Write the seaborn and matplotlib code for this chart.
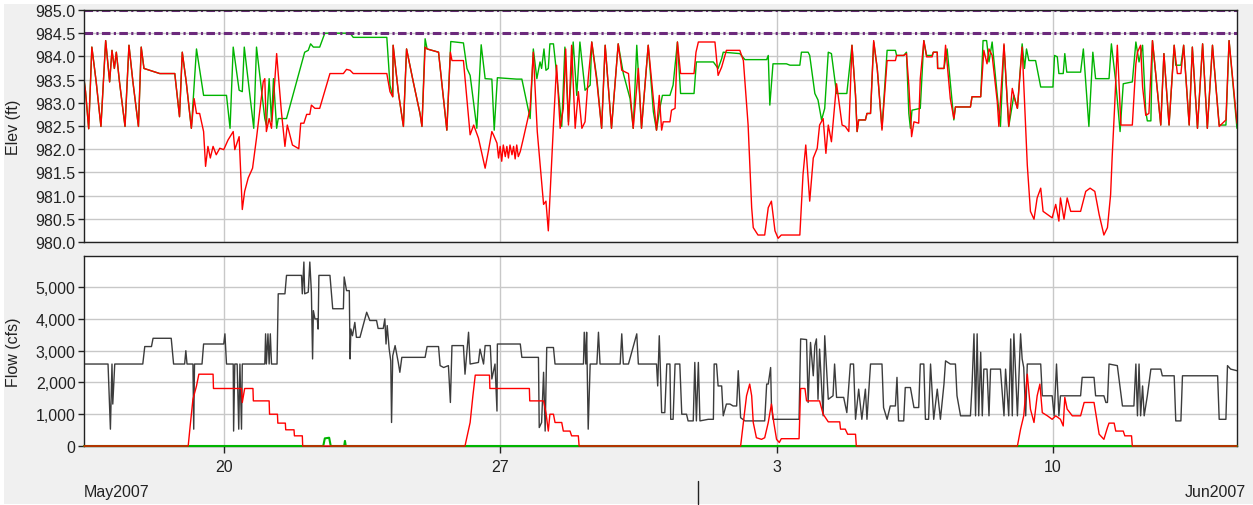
import numpy as np
import pandas as pd
import matplotlib
matplotlib.use("Agg")
import matplotlib.pyplot as plt
import matplotlib.dates as mdates
import matplotlib.ticker as mticker
from matplotlib.patches import Rectangle
import seaborn as sns

# time is given as day counted from 1 May 2007 (32 = 1 Jun)
x_start, x_end = 16.46, 45.66
tick_days = [20, 27, 34, 41]
tick_labels = ["20", "27", "3", "10"]
month_break = 32
flood_levels = [985.0, 984.5]

# pool elevation, red series (ft)
red_elev = [
    (16.46, 983.52), (16.50, 983.24), (16.58, 982.44), (16.66, 984.20), (16.77, 983.45),
    (16.89, 982.49), (17.01, 984.34), (17.11, 983.45), (17.17, 984.13), (17.23, 983.74),
    (17.28, 984.09), (17.36, 983.45), (17.50, 982.49), (17.60, 984.24), (17.70, 983.45),
    (17.84, 982.49), (17.91, 984.20), (17.98, 983.74), (18.38, 983.63), (18.76, 983.63),
    (18.88, 982.70), (18.95, 984.09), (19.05, 983.45), (19.18, 982.45), (19.25, 983.09),
    (19.31, 982.77), (19.39, 982.77), (19.49, 982.38), (19.54, 981.63), (19.60, 982.06),
    (19.66, 981.81), (19.73, 982.06), (19.81, 981.88), (19.90, 982.02), (20.00, 981.99),
    (20.11, 982.20), (20.24, 982.38), (20.28, 981.99), (20.39, 982.27), (20.47, 980.70),
    (20.53, 981.09), (20.62, 981.38), (20.73, 981.59), (20.83, 982.24), (21.00, 983.45),
    (21.04, 983.52), (21.08, 982.38), (21.15, 982.66), (21.21, 982.45), (21.34, 984.06),
    (21.38, 983.63), (21.46, 982.81), (21.55, 982.06), (21.61, 982.52), (21.74, 982.09),
    (21.90, 982.01), (21.95, 982.56), (22.03, 982.56), (22.10, 982.75), (22.18, 982.75),
    (22.22, 982.95), (22.31, 982.88), (22.43, 982.88), (22.69, 983.63), (23.03, 983.63),
    (23.11, 983.72), (23.20, 983.70), (23.28, 983.63), (24.13, 983.63), (24.21, 983.24),
    (24.28, 983.13), (24.29, 984.24), (24.42, 983.24), (24.55, 982.49), (24.63, 984.16),
    (24.80, 983.45), (24.97, 982.77), (25.02, 982.49), (25.10, 984.20), (25.15, 984.16),
    (25.44, 984.09), (25.65, 982.41), (25.74, 984.09), (25.78, 983.91), (26.07, 983.91),
    (26.24, 982.31), (26.33, 982.52), (26.45, 982.24), (26.62, 981.59), (26.70, 981.95),
    (26.79, 982.38), (26.83, 982.31), (26.92, 982.13), (26.96, 981.81), (27.00, 982.06),
    (27.04, 981.74), (27.08, 982.09), (27.13, 981.84), (27.17, 982.06), (27.21, 981.81),
    (27.25, 982.09), (27.30, 981.88), (27.34, 982.06), (27.38, 981.79), (27.42, 982.09),
    (27.46, 981.84), (27.51, 981.95), (27.59, 982.24), (27.76, 982.88), (27.84, 984.09),
    (27.89, 983.24), (27.94, 982.38), (28.10, 980.81), (28.16, 980.88), (28.22, 980.24),
    (28.35, 982.52), (28.43, 983.81), (28.52, 982.45), (28.60, 982.88), (28.66, 984.16),
    (28.73, 982.52), (28.81, 984.24), (28.90, 982.45), (28.98, 983.24), (29.07, 982.45),
    (29.15, 982.59), (29.23, 983.52), (29.32, 984.31), (29.45, 983.45), (29.57, 982.45),
    (29.66, 984.24), (29.82, 982.45), (29.99, 984.27), (30.08, 983.70), (30.25, 983.63),
    (30.37, 982.45), (30.50, 983.74), (30.58, 982.45), (30.75, 984.24), (30.88, 983.09),
    (30.96, 982.41), (31.03, 983.16), (31.09, 982.41), (31.13, 982.59), (31.30, 982.59),
    (31.34, 982.84), (31.43, 982.88), (31.49, 984.31), (31.57, 983.63), (31.91, 983.63),
    (31.96, 984.09), (32.02, 984.31), (32.44, 984.31), (32.52, 983.59), (32.61, 983.77),
    (32.73, 984.13), (33.07, 984.13), (33.16, 983.91), (33.28, 982.52), (33.37, 980.74),
    (33.41, 980.31), (33.53, 980.15), (33.70, 980.15), (33.79, 980.74), (33.87, 980.88),
    (33.96, 980.24), (34.04, 980.08), (34.12, 980.15), (34.59, 980.15), (34.67, 981.45),
    (34.74, 982.09), (34.84, 980.88), (34.93, 981.81), (35.03, 982.02), (35.09, 982.52),
    (35.18, 982.66), (35.25, 981.91), (35.31, 982.52), (35.39, 982.16), (35.52, 983.41),
    (35.60, 982.91), (35.66, 982.52), (35.74, 982.49), (35.83, 982.38), (35.91, 984.24),
    (36.00, 983.16), (36.04, 982.38), (36.08, 982.63), (36.25, 982.63), (36.29, 982.77),
    (36.38, 982.77), (36.46, 984.34), (36.55, 983.74), (36.67, 982.41), (36.80, 983.91),
    (37.01, 983.91), (37.04, 984.02), (37.22, 984.02), (37.29, 984.06), (37.35, 983.38),
    (37.42, 982.27), (37.48, 982.59), (37.60, 982.56), (37.64, 983.52), (37.73, 984.34),
    (37.80, 983.99), (37.94, 983.99), (37.97, 984.09), (38.07, 984.09), (38.08, 983.74),
    (38.24, 983.74), (38.28, 984.24), (38.40, 983.09), (38.49, 982.66), (38.53, 982.91),
    (38.91, 982.91), (38.95, 983.13), (39.17, 983.13), (39.25, 984.13), (39.33, 983.84),
    (39.38, 984.16), (39.46, 984.02), (39.59, 983.02), (39.63, 982.49), (39.76, 984.27),
    (39.88, 982.49), (39.97, 983.31), (40.05, 983.02), (40.10, 982.88), (40.22, 984.20),
    (40.35, 981.66), (40.43, 980.66), (40.52, 980.49), (40.60, 980.95), (40.69, 981.16),
    (40.75, 980.66), (40.98, 980.52), (41.07, 980.81), (41.15, 980.45), (41.19, 980.95),
    (41.28, 980.49), (41.36, 980.95), (41.45, 980.66), (41.70, 980.66), (41.83, 981.09),
    (41.94, 981.16), (42.06, 981.09), (42.17, 980.59), (42.29, 980.15), (42.38, 980.31),
    (42.46, 981.02), (42.50, 981.84), (42.56, 982.88), (42.63, 984.24), (42.72, 982.52),
    (43.01, 982.52), (43.05, 983.09), (43.10, 983.84), (43.14, 984.09), (43.22, 984.24),
    (43.27, 983.34), (43.35, 982.73), (43.43, 982.77), (43.52, 984.34), (43.73, 982.52),
    (43.81, 984.06), (43.94, 982.52), (44.07, 984.24), (44.15, 983.63), (44.24, 983.63),
    (44.31, 984.24), (44.45, 982.52), (44.53, 984.20), (44.66, 982.45), (44.79, 984.27),
    (44.91, 982.45), (45.04, 984.24), (45.21, 982.49), (45.38, 982.63), (45.46, 984.34),
    (45.66, 982.56),
]

# pool elevation, green series (ft)
green_elev = [
    (16.46, 983.52), (16.50, 983.24), (16.58, 982.44), (16.66, 984.20), (16.77, 983.45),
    (16.89, 982.49), (17.01, 984.34), (17.11, 983.45), (17.17, 984.13), (17.23, 983.74),
    (17.28, 984.09), (17.36, 983.45), (17.50, 982.49), (17.60, 984.24), (17.70, 983.45),
    (17.84, 982.49), (17.91, 984.20), (17.98, 983.74), (18.38, 983.63), (18.76, 983.63),
    (18.88, 982.70), (18.95, 984.09), (19.05, 983.45), (19.18, 982.45), (19.31, 984.16),
    (19.49, 983.16), (20.07, 983.16), (20.16, 982.45), (20.24, 984.20), (20.39, 983.27),
    (20.47, 983.24), (20.52, 984.20), (20.76, 982.45), (20.83, 984.20), (21.04, 982.66),
    (21.08, 982.52), (21.15, 983.52), (21.21, 982.60), (21.26, 983.52), (21.34, 982.45),
    (21.38, 982.66), (21.59, 982.66), (22.05, 984.09), (22.14, 984.13), (22.20, 984.27),
    (22.27, 984.20), (22.43, 984.20), (22.56, 984.50), (23.20, 984.50), (23.28, 984.41),
    (24.13, 984.41), (24.21, 983.38), (24.28, 983.13), (24.29, 984.24), (24.42, 983.24),
    (24.55, 982.49), (24.63, 984.16), (24.80, 983.45), (24.97, 982.77), (25.02, 982.49),
    (25.10, 984.38), (25.15, 984.16), (25.44, 984.09), (25.65, 982.41), (25.75, 984.32),
    (26.07, 984.29), (26.16, 983.74), (26.24, 983.59), (26.41, 982.45), (26.52, 984.25),
    (26.62, 983.52), (26.79, 983.51), (26.85, 982.41), (26.93, 983.54), (27.42, 983.51),
    (27.55, 983.51), (27.76, 982.66), (27.84, 984.16), (27.93, 983.52), (28.01, 983.88),
    (28.05, 983.74), (28.11, 984.16), (28.16, 983.70), (28.22, 983.74), (28.26, 984.27),
    (28.35, 984.27), (28.43, 983.63), (28.56, 982.49), (28.64, 984.20), (28.73, 982.59),
    (28.85, 984.31), (28.94, 983.16), (29.02, 984.31), (29.15, 983.27), (29.28, 983.38),
    (29.32, 984.31), (29.45, 983.52), (29.57, 982.45), (29.66, 984.24), (29.82, 982.45),
    (29.99, 984.27), (30.12, 983.63), (30.29, 983.09), (30.37, 982.45), (30.46, 984.24),
    (30.58, 982.45), (30.75, 984.24), (30.88, 982.81), (30.96, 982.41), (31.05, 982.91),
    (31.11, 983.16), (31.30, 983.16), (31.38, 983.38), (31.49, 984.31), (31.57, 983.20),
    (31.91, 983.20), (31.97, 983.88), (32.40, 983.88), (32.52, 983.74), (32.61, 983.95),
    (32.65, 984.09), (33.07, 984.06), (33.20, 983.93), (33.75, 983.93), (33.79, 984.02),
    (33.83, 982.95), (33.91, 983.84), (34.25, 983.84), (34.34, 983.81), (34.59, 983.81),
    (34.63, 984.09), (34.80, 984.09), (34.84, 984.02), (34.97, 983.20), (35.05, 983.06),
    (35.14, 982.63), (35.22, 982.88), (35.31, 984.09), (35.39, 984.06), (35.52, 983.20),
    (35.62, 983.20), (35.78, 983.20), (35.91, 984.24), (36.00, 983.16), (36.04, 982.38),
    (36.08, 982.63), (36.25, 982.63), (36.29, 982.77), (36.38, 982.77), (36.46, 984.31),
    (36.55, 983.74), (36.67, 982.45), (36.80, 984.13), (37.01, 984.13), (37.04, 984.02),
    (37.22, 984.02), (37.29, 984.09), (37.35, 982.77), (37.39, 982.45), (37.43, 982.84),
    (37.64, 982.88), (37.73, 984.34), (37.80, 984.02), (37.94, 984.02), (37.97, 984.09),
    (38.07, 984.09), (38.08, 983.74), (38.24, 983.74), (38.32, 984.16), (38.49, 982.63),
    (38.53, 982.91), (38.91, 982.91), (38.95, 983.13), (39.17, 983.13), (39.23, 984.34),
    (39.32, 984.34), (39.38, 983.88), (39.46, 984.31), (39.59, 983.16), (39.67, 982.49),
    (39.76, 984.24), (39.88, 982.49), (40.01, 983.16), (40.10, 982.88), (40.22, 984.27),
    (40.28, 983.74), (40.33, 984.16), (40.39, 983.91), (40.56, 983.91), (40.69, 983.34),
    (41.00, 983.34), (41.04, 984.02), (41.11, 983.99), (41.15, 983.63), (41.26, 983.63),
    (41.30, 984.06), (41.35, 983.66), (41.70, 983.66), (41.77, 984.16), (41.91, 982.49),
    (42.01, 984.09), (42.08, 983.52), (42.42, 983.52), (42.48, 984.27), (42.59, 983.45),
    (42.70, 982.38), (42.78, 983.41), (43.01, 983.45), (43.10, 984.31), (43.18, 983.88),
    (43.27, 984.24), (43.35, 982.81), (43.39, 982.61), (43.48, 982.61), (43.52, 984.34),
    (43.73, 982.52), (43.81, 984.06), (43.94, 982.52), (44.07, 984.24), (44.11, 983.81),
    (44.24, 983.81), (44.31, 984.24), (44.45, 982.52), (44.53, 984.20), (44.66, 982.45),
    (44.79, 984.27), (44.91, 982.45), (45.04, 984.24), (45.21, 982.52), (45.38, 982.52),
    (45.46, 984.34), (45.66, 982.45),
]

# total flow, dark series (cfs)
total_flow = [
    (16.46, 2580), (17.07, 2580), (17.13, 530), (17.17, 2580), (17.19, 1320), (17.24, 2580),
    (17.95, 2580), (18.00, 3130), (18.17, 3130), (18.21, 3390), (18.67, 3390), (18.73, 2580),
    (19.01, 2580), (19.04, 3000), (19.07, 2580), (19.22, 2580), (19.24, 530), (19.26, 2580),
    (19.45, 2580), (19.49, 3210), (20.00, 3210), (20.03, 3530), (20.07, 2580), (20.24, 2580),
    (20.25, 470), (20.28, 2580), (20.34, 2580), (20.38, 530), (20.41, 2580), (20.45, 530),
    (20.47, 2580), (21.04, 2580), (21.06, 3530), (21.08, 2580), (21.12, 3530), (21.15, 2580),
    (21.18, 3530), (21.21, 2580), (21.35, 2580), (21.38, 4790), (21.55, 4790), (21.59, 5370),
    (21.97, 5370), (21.99, 4790), (22.03, 5790), (22.05, 4790), (22.14, 4840), (22.18, 5790),
    (22.22, 4840), (22.25, 2740), (22.27, 4260), (22.31, 4000), (22.37, 4000), (22.39, 3680),
    (22.41, 5370), (22.69, 5370), (22.76, 4320), (23.03, 4320), (23.05, 5320), (23.11, 4890),
    (23.18, 4890), (23.20, 2740), (23.22, 3680), (23.26, 3470), (23.32, 3890), (23.36, 3420),
    (23.45, 3420), (23.62, 4210), (23.70, 3950), (23.87, 3950), (23.91, 3700), (24.04, 3700),
    (24.08, 4000), (24.11, 3210), (24.14, 3790), (24.19, 3050), (24.23, 2680), (24.25, 740),
    (24.28, 2840), (24.34, 3160), (24.42, 2630), (24.46, 2320), (24.51, 2790), (25.10, 2790),
    (25.15, 3130), (25.44, 3130), (25.48, 2530), (25.57, 2470), (25.69, 2530), (25.74, 1370),
    (25.78, 3160), (26.07, 3160), (26.11, 2260), (26.20, 3580), (26.24, 2580), (26.45, 2630),
    (26.49, 3050), (26.58, 2580), (26.62, 3160), (26.75, 3160), (26.79, 2110), (26.87, 2580),
    (26.92, 1100), (26.93, 3210), (27.51, 3210), (27.55, 2790), (27.97, 2790), (27.99, 580),
    (28.05, 740), (28.10, 2320), (28.14, 470), (28.18, 3100), (28.35, 3100), (28.39, 2580),
    (29.11, 2580), (29.13, 3580), (29.17, 2580), (29.19, 3580), (29.23, 530), (29.28, 2580),
    (29.45, 2580), (29.49, 3580), (29.53, 2580), (30.04, 2580), (30.08, 3530), (30.12, 2580),
    (30.25, 2580), (30.46, 3530), (30.50, 2580), (30.96, 2580), (30.99, 1890), (31.03, 3470),
    (31.05, 2740), (31.09, 1050), (31.17, 1050), (31.22, 2580), (31.30, 2580), (31.32, 840),
    (31.38, 840), (31.43, 2580), (31.55, 2580), (31.60, 1000), (31.72, 1000), (31.76, 790),
    (31.89, 790), (31.93, 2630), (31.97, 790), (32.02, 2630), (32.06, 790), (32.27, 840),
    (32.40, 840), (32.42, 2580), (32.48, 2580), (32.52, 1890), (32.61, 1890), (32.65, 950),
    (32.73, 1320), (32.82, 1320), (32.90, 1260), (32.99, 1260), (33.03, 2370), (33.09, 890),
    (33.20, 790), (33.70, 790), (33.75, 1950), (33.79, 1950), (33.85, 2470), (33.87, 1320),
    (33.91, 840), (34.57, 840), (34.61, 3370), (34.76, 3350), (34.80, 1370), (34.86, 3260),
    (34.93, 2210), (34.97, 3160), (35.01, 3370), (35.05, 1470), (35.09, 3050), (35.18, 950),
    (35.22, 3470), (35.31, 1470), (35.43, 1580), (35.47, 2580), (35.52, 1530), (35.70, 1530),
    (35.78, 1050), (35.87, 2580), (35.95, 2580), (36.00, 840), (36.08, 1790), (36.16, 840),
    (36.25, 1790), (36.29, 840), (36.38, 2580), (36.67, 2580), (36.71, 1210), (36.80, 840),
    (36.88, 1260), (37.01, 1260), (37.05, 2160), (37.09, 790), (37.22, 790), (37.26, 1840),
    (37.39, 1840), (37.48, 1210), (37.60, 1210), (37.64, 2580), (37.73, 2580), (37.77, 840),
    (37.85, 840), (37.90, 2580), (37.98, 840), (38.07, 1790), (38.15, 840), (38.24, 1950),
    (38.28, 2680), (38.40, 2580), (38.53, 2580), (38.57, 1580), (38.66, 950), (38.91, 950),
    (38.95, 1890), (39.00, 3530), (39.04, 950), (39.08, 3530), (39.12, 950), (39.17, 2950),
    (39.21, 950), (39.25, 2420), (39.33, 2420), (39.38, 950), (39.42, 2420), (39.67, 2420),
    (39.76, 950), (39.80, 2420), (39.88, 950), (39.93, 3370), (39.97, 950), (40.01, 3530),
    (40.05, 2420), (40.10, 950), (40.18, 3530), (40.22, 2740), (40.26, 2470), (40.31, 950),
    (40.35, 2580), (40.69, 2580), (40.73, 1580), (40.98, 1580), (41.03, 950), (41.09, 2580),
    (41.15, 950), (41.19, 1580), (41.70, 1580), (41.74, 2160), (42.04, 2160), (42.08, 1580),
    (42.29, 1580), (42.34, 1370), (42.38, 1370), (42.42, 2580), (42.63, 2530), (42.76, 1260),
    (43.05, 1260), (43.10, 2580), (43.14, 950), (43.18, 2580), (43.22, 950), (43.27, 1890),
    (43.31, 950), (43.39, 1580), (43.48, 2420), (43.73, 2420), (43.77, 2210), (44.07, 2210),
    (44.11, 790), (44.24, 790), (44.28, 2210), (45.17, 2210), (45.21, 840), (45.38, 840),
    (45.42, 2530), (45.50, 2420), (45.66, 2370),
]

# flow, red series (cfs)
red_flow = [
    (16.46, 0), (19.10, 0), (19.15, 630), (19.22, 1470), (19.31, 1890), (19.37, 2260),
    (19.73, 2260), (19.74, 1810), (20.45, 1810), (20.47, 1370), (20.53, 1810), (20.74, 1810),
    (20.75, 1420), (21.15, 1420), (21.16, 1000), (21.36, 1000), (21.37, 720), (21.56, 720),
    (21.57, 510), (21.78, 510), (21.79, 320), (21.99, 320), (22.00, 0), (26.11, 0),
    (26.24, 740), (26.31, 1580), (26.37, 2230), (26.73, 2230), (26.74, 1810), (27.74, 1810),
    (27.75, 1420), (28.10, 1420), (28.16, 1050), (28.22, 470), (28.26, 1000), (28.35, 1000),
    (28.39, 740), (28.56, 740), (28.60, 470), (28.77, 470), (28.81, 320), (28.98, 320),
    (29.00, 0), (33.09, 0), (33.14, 530), (33.24, 1580), (33.32, 1950), (33.37, 1580),
    (33.41, 740), (33.49, 260), (33.62, 210), (33.70, 260), (33.79, 740), (33.87, 1320),
    (33.93, 740), (34.00, 210), (34.07, 110), (34.12, 230), (34.57, 230), (34.61, 1810),
    (34.72, 1810), (34.76, 1420), (35.09, 1420), (35.18, 1000), (35.31, 760), (35.60, 760),
    (35.62, 530), (35.74, 530), (35.80, 370), (36.00, 370), (36.02, 0), (40.10, 0),
    (40.18, 530), (40.26, 950), (40.35, 2260), (40.43, 1160), (40.52, 740), (40.60, 1580),
    (40.67, 1950), (40.73, 1050), (40.86, 950), (40.98, 840), (41.07, 950), (41.19, 840),
    (41.26, 630), (41.30, 1530), (41.36, 1160), (41.49, 950), (41.70, 950), (41.79, 1370),
    (42.04, 1370), (42.17, 370), (42.29, 210), (42.38, 580), (42.42, 720), (42.55, 720),
    (42.59, 470), (42.78, 470), (42.82, 320), (42.99, 320), (43.01, 0), (45.66, 0),
]

# flow, green series (cfs)
green_flow = [
    (16.46, 0), (22.52, 0), (22.56, 240), (22.67, 260), (22.71, 0), (23.05, 0),
    (23.07, 160), (23.09, 0), (45.66, 0),
]


def to_frame(points):
    df = pd.DataFrame(points, columns=["day", "value"])
    df["time"] = pd.Timestamp("2007-05-01") + pd.to_timedelta(df["day"] - 1, unit="D")
    return df


def to_time(day):
    return pd.Timestamp("2007-05-01") + pd.Timedelta(days=day - 1)


sns.set_style("white")
plt.rcParams["font.family"] = ["Liberation Sans", "DejaVu Sans"]
plt.rcParams["font.size"] = 11.5

bg = "#f0f0f0"
grid_c = "#c8c8c8"
fig = plt.figure(figsize=(12.53, 5.06), dpi=100, facecolor="white")
fig.patches.append(Rectangle((0.0032, 0.002), 0.9968, 0.988, transform=fig.transFigure,
                             facecolor=bg, edgecolor="none", zorder=-10))
ax1 = fig.add_axes([0.0670, 0.5198, 0.9202, 0.4585])
ax2 = fig.add_axes([0.0670, 0.1166, 0.9202, 0.3755], sharex=ax1)

# elevation panel
g = to_frame(green_elev)
r = to_frame(red_elev)
sns.lineplot(data=g, x="time", y="value", ax=ax1, color="#00b400", lw=1,
             estimator=None, sort=False, zorder=3)
sns.lineplot(data=r, x="time", y="value", ax=ax1, color="#ff0000", lw=1,
             estimator=None, sort=False, zorder=4)
for lvl in flood_levels:
    ax1.axhline(lvl, color="#6c2a7c", lw=2.2, ls=(0, (2.8, 1.1, 0.7, 1.1)), zorder=5)
ax1.set_ylim(980, 985)
ax1.yaxis.set_major_locator(mticker.MultipleLocator(0.5))
ax1.yaxis.set_major_formatter(mticker.FormatStrFormatter("%.1f"))
ax1.set_ylabel("Elev (ft)")

# flow panel
t = to_frame(total_flow)
rf = to_frame(red_flow)
gf = to_frame(green_flow)
sns.lineplot(data=t, x="time", y="value", ax=ax2, color="#3c3c3c", lw=1,
             estimator=None, sort=False, zorder=3)
sns.lineplot(data=gf, x="time", y="value", ax=ax2, color="#00b400", lw=1.5,
             estimator=None, sort=False, zorder=7, clip_on=False)
sns.lineplot(data=rf, x="time", y="value", ax=ax2, color="#ff0000", lw=1,
             estimator=None, sort=False, zorder=8, clip_on=False)
ax2.set_ylim(0, 5980)
ax2.yaxis.set_major_locator(mticker.FixedLocator([0, 1000, 2000, 3000, 4000, 5000]))
ax2.yaxis.set_major_formatter(mticker.StrMethodFormatter("{x:,.0f}"))
ax2.set_ylabel("Flow (cfs)")

ax2.set_xlim(to_time(x_start), to_time(x_end))
ax2.set_xticks([to_time(d) for d in tick_days])
ax2.set_xticklabels(tick_labels)

for ax in (ax1, ax2):
    ax.set_facecolor("white")
    ax.grid(True, color=grid_c, lw=1, zorder=0)
    ax.set_axisbelow(True)
    ax.set_xlabel("")
    for s in ax.spines.values():
        s.set_color("#222222")
        s.set_linewidth(1)
        s.set_zorder(6)
    ax.tick_params(axis="y", length=4, width=1, color="#222222", pad=2,
                   labelsize=11.5, labelcolor="#222222", left=True)
    ax.yaxis.set_label_coords(-0.055, 0.5)
    ax.yaxis.label.set_color("#222222")

ax1.tick_params(axis="x", length=0, labelbottom=False)
ax2.tick_params(axis="x", length=5, width=1, color="#222222", pad=4,
                labelsize=11.5, labelcolor="#222222", bottom=True)

# month labels and month separator under the time axis
fig.text(0.0670, 0.026, "May2007", ha="left", va="center", fontsize=11.5, color="#222222")
fig.text(0.9945, 0.026, "Jun2007", ha="right", va="center", fontsize=11.5, color="#222222")
jun1 = mdates.date2num(to_time(month_break))
ax2.plot([jun1, jun1], [-0.184, -0.305], transform=ax2.get_xaxis_transform(),
         clip_on=False, color="#222222", lw=1)

fig.savefig("out.png", dpi=100, facecolor=fig.get_facecolor())
